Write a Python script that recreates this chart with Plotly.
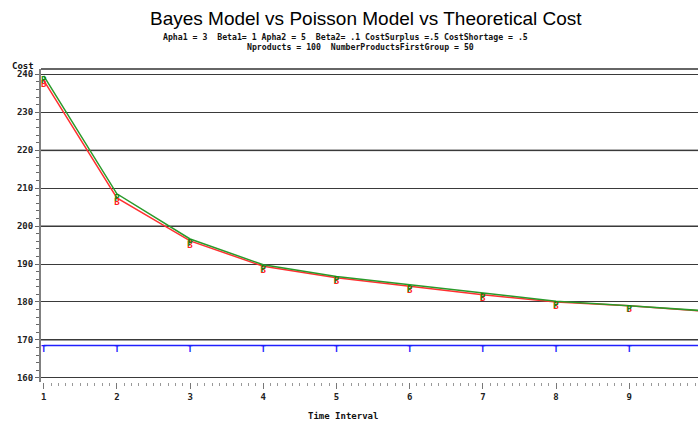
import plotly.graph_objects as go

# ---- data ----
time_interval = [1, 2, 3, 4, 5, 6, 7, 8, 9, 10]
bayes_cost = [238.4, 207.4, 196.1, 189.4, 186.4, 184.2, 181.9, 180.0, 179.0, 177.6]
poisson_cost = [239.6, 208.5, 196.6, 189.8, 186.7, 184.5, 182.3, 180.2, 179.0, 177.7]
theoretical_cost = [168.5] * 10
bayes_marks = ["B"] * 9 + [""]
poisson_marks = ["P"] * 9 + [""]
theory_marks = ["T"] * 9 + [""]
y_ticks = [160, 170, 180, 190, 200, 210, 220, 230, 240]
x_ticks = [1, 2, 3, 4, 5, 6, 7, 8, 9, 10]
light_grid = [170, 200, 220]

title = "Bayes Model vs Poisson Model vs Theoretical Cost"
sub1 = "Apha1 = 3  Beta1= 1 Apha2 = 5  Beta2= .1 CostSurplus =.5 CostShortage = .5"
sub2 = "Nproducts = 100  NumberProductsFirstGroup = 50"

mono = "DejaVu Sans Mono"
letter_font = dict(family=mono, size=9, weight="bold")

fig = go.Figure()
fig.add_trace(go.Scatter(
    x=time_interval, y=bayes_cost, mode="lines+text",
    text=bayes_marks, textposition="bottom center",
    textfont=dict(color="#ff2020", **letter_font),
    line=dict(color="#ff3030", width=1.5), name="Bayes", showlegend=False))
fig.add_trace(go.Scatter(
    x=time_interval, y=poisson_cost, mode="lines+text",
    text=poisson_marks, textposition="bottom center",
    textfont=dict(color="#138a13", **letter_font),
    line=dict(color="#2a9a2a", width=1.5), name="Poisson", showlegend=False))
fig.add_trace(go.Scatter(
    x=time_interval, y=theoretical_cost, mode="lines+text",
    text=theory_marks, textposition="bottom center",
    textfont=dict(color="#1a1aff", **letter_font),
    line=dict(color="#2020ff", width=1.5), name="Theoretical", showlegend=False))

for v in light_grid:
    fig.add_shape(type="line", xref="paper", x0=0, x1=1, yref="y", y0=v, y1=v,
                  line=dict(color="#9a9a9a", width=2), layer="below")
fig.add_shape(type="line", xref="paper", x0=0, x1=1, yref="paper", y0=1, y1=1,
              line=dict(color="#333333", width=1.5))

fig.update_layout(
    width=698, height=424,
    margin=dict(l=41, r=0, t=69, b=42),
    paper_bgcolor="white", plot_bgcolor="white",
    font=dict(family=mono, color="#222222"),
    xaxis=dict(range=[0.963, 9.94], tickvals=x_ticks, showgrid=False, zeroline=False,
               ticks="outside", ticklen=6, tickcolor="#777777", tickwidth=1,
               tickfont=dict(family=mono, size=9, weight="bold", color="#222222"),
               showline=False,
               minor=dict(dtick=0.1, ticks="outside", ticklen=3, tickcolor="#999999", tickwidth=1)),
    yaxis=dict(range=[158.9, 241.4], tickvals=y_ticks, showgrid=True, gridcolor="#3a3a3a",
               gridwidth=1, zeroline=False, showline=True, linecolor="#808080", linewidth=2,
               ticks="outside", ticklen=4, tickcolor="#666666",
               tickfont=dict(family=mono, size=9, weight="bold", color="#222222"),
               minor=dict(dtick=2, ticks="outside", ticklen=3, tickcolor="#666666", showgrid=False)),
    annotations=[
        dict(text=title, xref="paper", yref="paper", x=0.494, y=1.160, showarrow=False,
             xanchor="center", yanchor="middle",
             font=dict(family="Liberation Sans Narrow, Arial Narrow, Liberation Sans", size=19,
                       color="#000000")),
        dict(text=sub1, xref="paper", yref="paper", x=0.4635, y=1.102, showarrow=False,
             xanchor="center", yanchor="middle",
             font=dict(family=mono, size=8.2, weight="bold", color="#111111")),
        dict(text=sub2, xref="paper", yref="paper", x=0.486, y=1.070, showarrow=False,
             xanchor="center", yanchor="middle",
             font=dict(family=mono, size=8.2, weight="bold", color="#111111")),
        dict(text="Cost", xref="paper", yref="paper", x=-0.027, y=1.0096, showarrow=False,
             xanchor="center", yanchor="middle",
             font=dict(family=mono, size=9, weight="bold", color="#111111")),
        dict(text="Time Interval", xref="paper", yref="paper", x=0.459, y=-0.109, showarrow=False,
             xanchor="center", yanchor="middle",
             font=dict(family=mono, size=9, weight="bold", color="#111111")),
    ],
)

fig.write_html("out.html")
